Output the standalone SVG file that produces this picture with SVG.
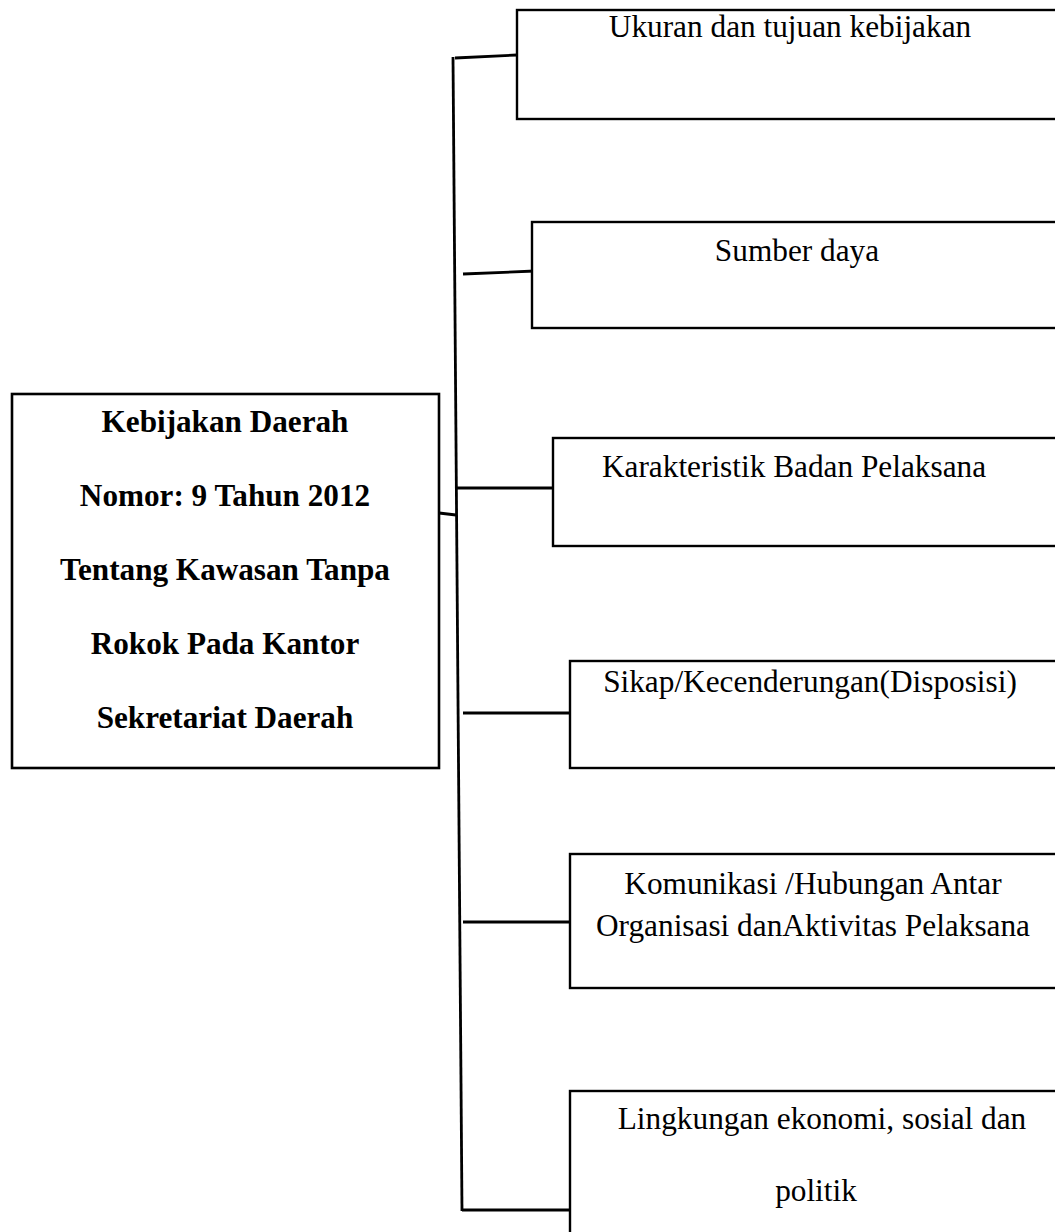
<svg xmlns="http://www.w3.org/2000/svg" width="1055" height="1232" viewBox="0 0 1055 1232">
<style>
.box{fill:#fff;stroke:#000;stroke-width:2.4}
.ln{stroke:#000;stroke-width:2.8;fill:none}
.t{font-family:"Liberation Serif","Times New Roman",serif;font-size:31.3px;fill:#000;text-anchor:middle}
.b{font-weight:bold;font-size:31.2px}
</style>
<rect width="1055" height="1232" fill="#fff"/>
<g id="connectors">
<line class="ln" x1="453" y1="57" x2="462" y2="1211"/>
<line class="ln" x1="439" y1="513" x2="456" y2="515"/>
<line class="ln" x1="455" y1="58" x2="517" y2="55"/>
<line class="ln" x1="463" y1="274" x2="535" y2="271"/>
<line class="ln" x1="456" y1="488" x2="553" y2="488"/>
<line class="ln" x1="463" y1="713" x2="573" y2="713"/>
<line class="ln" x1="463" y1="922" x2="573" y2="922"/>
<line class="ln" x1="462" y1="1210" x2="573" y2="1210"/>
</g>
<g id="main">
<rect class="box" x="12" y="394" width="427" height="374" style="stroke-width:2.6"/>
<text class="t b" x="225" y="432">Kebijakan Daerah</text>
<text class="t b" x="225" y="506">Nomor: 9 Tahun 2012</text>
<text class="t b" x="225" y="580">Tentang Kawasan Tanpa</text>
<text class="t b" x="225" y="654">Rokok Pada Kantor</text>
<text class="t b" x="225" y="728">Sekretariat Daerah</text>
</g>
<g id="n1">
<rect class="box" x="517" y="10" width="560" height="109"/>
<text class="t" x="790" y="37">Ukuran dan tujuan kebijakan</text>
</g>
<g id="n2">
<rect class="box" x="532" y="222" width="560" height="106"/>
<text class="t" x="797" y="261">Sumber daya</text>
</g>
<g id="n3">
<rect class="box" x="553" y="438" width="560" height="108"/>
<text class="t" x="794" y="477">Karakteristik Badan Pelaksana</text>
</g>
<g id="n4">
<rect class="box" x="570" y="661" width="560" height="107"/>
<text class="t" x="810" y="692">Sikap/Kecenderungan(Disposisi)</text>
</g>
<g id="n5">
<rect class="box" x="570" y="854" width="560" height="134"/>
<text class="t" x="813" y="894">Komunikasi /Hubungan Antar</text>
<text class="t" x="813" y="936">Organisasi danAktivitas Pelaksana</text>
</g>
<g id="n6">
<rect class="box" x="570" y="1091" width="560" height="200"/>
<text class="t" x="822" y="1129">Lingkungan ekonomi, sosial dan</text>
<text class="t" x="816" y="1201">politik</text>
</g>
</svg>
